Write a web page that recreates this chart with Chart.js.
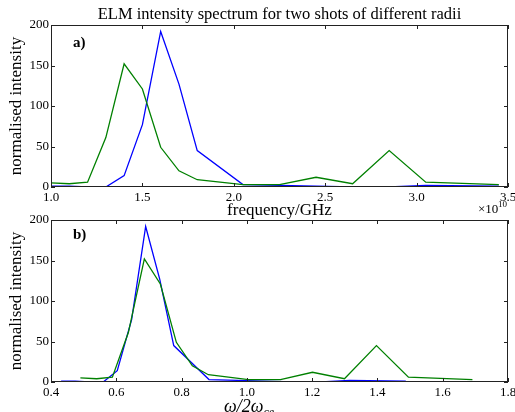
<!DOCTYPE html>
<html>
<head>
<meta charset="utf-8">
<script src="https://cdn.jsdelivr.net/npm/chart.js@4.4.1/dist/chart.umd.min.js"></script>
<style>
body { margin: 0; background: #fff; width: 515px; height: 412px; position: relative; overflow: hidden; }
canvas { position: absolute; left: 0; }
#topChart { top: 0; }
#bottomChart { top: 200px; }
</style>
</head>
<body>
<canvas id="topChart" width="515" height="222"></canvas>
<canvas id="bottomChart" width="515" height="212"></canvas>
<script>
// a) intensity vs frequency (x10^10 Hz)
const topFreq = [1.0, 1.1, 1.2, 1.3, 1.4, 1.5, 1.6, 1.7, 1.8, 2.05, 2.25, 2.45, 2.65, 2.85, 3.05, 3.45];
const blueIntensity = [1, 1, 0, 0, 14, 77, 192, 127, 45, 3, 2, 1, 0, 0, 2, 1];
const greenIntensity = [5, 4, 6, 61, 152, 121, 49, 20, 9, 3, 3, 12, 4, 45, 6, 3];

// b) same spectra vs omega / 2 omega_ce
const blueRatio = [0.431, 0.474, 0.517, 0.56, 0.603, 0.647, 0.69, 0.733, 0.776, 0.884, 0.97, 1.056, 1.142, 1.228, 1.315, 1.487];
const greenRatio = [0.49, 0.54, 0.588, 0.637, 0.686, 0.735, 0.784, 0.833, 0.882, 1.005, 1.103, 1.201, 1.299, 1.397, 1.495, 1.691];

const yTicks = [0, 50, 100, 150, 200];
const topXTicks = [1.0, 1.5, 2.0, 2.5, 3.0, 3.5];
const bottomXTicks = [0.4, 0.6, 0.8, 1.0, 1.2, 1.4, 1.6, 1.8];

const serif = '"Liberation Serif", "DejaVu Serif", serif';
const BLUE = '#0000ff';
const GREEN = '#008000';

function points(xs, ys) {
    return xs.map((x, i) => ({ x: x, y: ys[i] }));
}

// matplotlib style box with inward ticks on all sides
const frameTicks = {
    id: 'frameTicks',
    afterDatasetsDraw(chart) {
        const ctx = chart.ctx;
        const a = chart.chartArea;
        const xs = chart.scales.x;
        const ys = chart.scales.y;
        ctx.save();
        ctx.strokeStyle = '#222';
        ctx.lineWidth = 1;
        ctx.strokeRect(Math.round(a.left) + 0.5, Math.round(a.top) + 0.5, Math.round(a.width) - 1, Math.round(a.height) - 1);
        ctx.beginPath();
        xs.ticks.forEach(t => {
            const px = Math.round(xs.getPixelForValue(t.value)) + 0.5;
            ctx.moveTo(px, a.bottom); ctx.lineTo(px, a.bottom - 4);
            ctx.moveTo(px, a.top); ctx.lineTo(px, a.top + 4);
        });
        ys.ticks.forEach(t => {
            const py = Math.round(ys.getPixelForValue(t.value)) + 0.5;
            ctx.moveTo(a.left, py); ctx.lineTo(a.left + 4, py);
            ctx.moveTo(a.right, py); ctx.lineTo(a.right - 4, py);
        });
        ctx.stroke();
        ctx.restore();
    }
};

function yLabel(ctx, cy) {
    ctx.save();
    ctx.translate(21, cy);
    ctx.rotate(-Math.PI / 2);
    ctx.font = '17px ' + serif;
    ctx.fillStyle = '#000';
    ctx.textAlign = 'center';
    ctx.textBaseline = 'alphabetic';
    ctx.fillText('normalised intensity', 0, 0);
    ctx.restore();
}

const topText = {
    id: 'topText',
    afterDraw(chart) {
        const ctx = chart.ctx;
        const a = chart.chartArea;
        ctx.save();
        ctx.fillStyle = '#000';
        ctx.textAlign = 'center';
        ctx.font = '16.5px ' + serif;
        ctx.fillText('ELM intensity spectrum for two shots of different radii', (a.left + a.right) / 2, 19);
        ctx.font = '17px ' + serif;
        ctx.fillText('frequency/GHz', (a.left + a.right) / 2, 215);
        ctx.textAlign = 'left';
        ctx.font = 'bold 15px ' + serif;
        ctx.fillText('a)', 73, 47);
        ctx.font = '13px ' + serif;
        ctx.fillText('\u00d710', 478, 213);
        ctx.font = '9px ' + serif;
        ctx.fillText('10', 498, 207);
        ctx.restore();
        yLabel(ctx, (a.top + a.bottom) / 2);
    }
};

const bottomText = {
    id: 'bottomText',
    afterDraw(chart) {
        const ctx = chart.ctx;
        const a = chart.chartArea;
        ctx.save();
        ctx.fillStyle = '#000';
        ctx.textAlign = 'left';
        ctx.font = 'bold 15px ' + serif;
        ctx.fillText('b)', 73, 39);
        ctx.font = 'italic 18px ' + serif;
        const main = '\u03c9/2\u03c9';
        const w = ctx.measureText(main).width;
        const sx = 224;
        ctx.fillText(main, sx, 212);
        ctx.font = 'italic 12px ' + serif;
        ctx.fillText('ce', sx + w, 216);
        ctx.restore();
        yLabel(ctx, (a.top + a.bottom) / 2);
    }
};

function makeOptions(xMin, xMax, xTicks, xHeight, top) {
    return {
        responsive: false,
        devicePixelRatio: 1,
        animation: false,
        layout: { padding: { left: 0, right: 7, top: top, bottom: 0 } },
        plugins: { legend: { display: false }, tooltip: { enabled: false } },
        elements: { point: { radius: 0 }, line: { tension: 0, borderWidth: 1.3 } },
        scales: {
            x: {
                type: 'linear',
                min: xMin,
                max: xMax,
                afterBuildTicks: s => { s.ticks = xTicks.map(v => ({ value: v })); },
                afterFit: s => { s.height = xHeight; s.paddingLeft = 0; s.paddingRight = 0; },
                grid: { display: false, drawTicks: false },
                border: { display: false },
                ticks: {
                    padding: 3,
                    color: '#000',
                    font: { family: serif, size: 13 },
                    maxRotation: 0,
                    autoSkip: false,
                    callback: v => v.toFixed(1)
                }
            },
            y: {
                min: 0,
                max: 200,
                afterBuildTicks: s => { s.ticks = yTicks.map(v => ({ value: v })); },
                afterFit: s => { s.width = 51; s.paddingTop = 0; s.paddingBottom = 0; },
                grid: { display: false, drawTicks: false },
                border: { display: false },
                ticks: {
                    padding: 2,
                    color: '#000',
                    autoSkip: false,
                    font: { family: serif, size: 13 }
                }
            }
        }
    };
}

new Chart(document.getElementById('topChart'), {
    type: 'line',
    data: {
        datasets: [
            { data: points(topFreq, blueIntensity), borderColor: BLUE, order: 2 },
            { data: points(topFreq, greenIntensity), borderColor: GREEN, order: 1 }
        ]
    },
    options: makeOptions(1.0, 3.5, topXTicks, 35, 25),
    plugins: [frameTicks, topText]
});

new Chart(document.getElementById('bottomChart'), {
    type: 'line',
    data: {
        datasets: [
            { data: points(blueRatio, blueIntensity), borderColor: BLUE, order: 2 },
            { data: points(greenRatio, greenIntensity), borderColor: GREEN, order: 1 }
        ]
    },
    options: makeOptions(0.4, 1.8, bottomXTicks, 30, 20),
    plugins: [frameTicks, bottomText]
});
</script>
</body>
</html>
